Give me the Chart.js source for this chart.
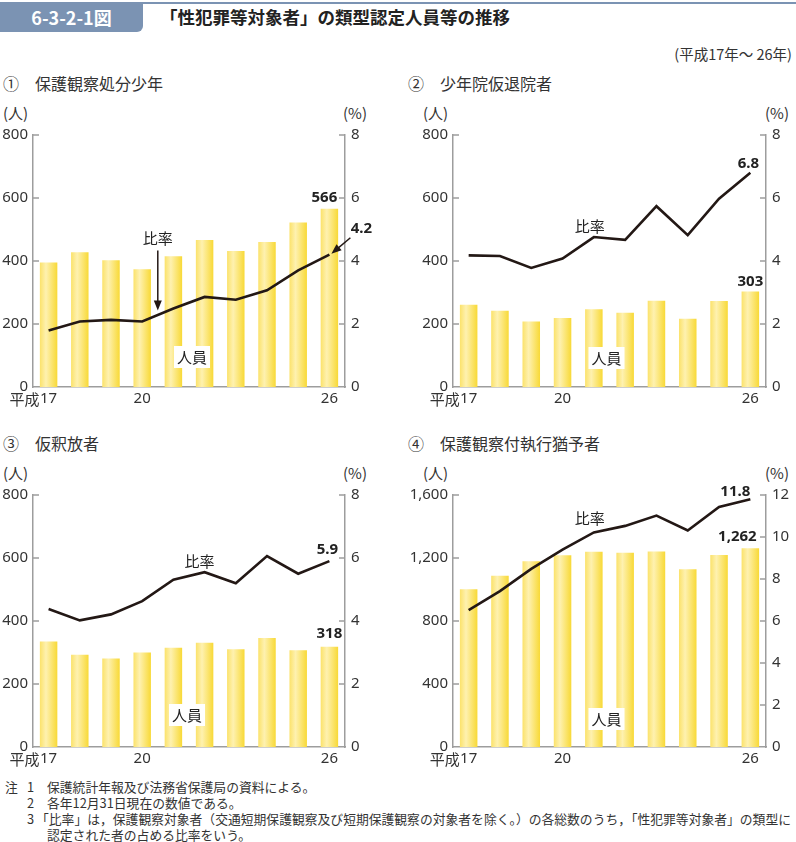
<!DOCTYPE html>
<html lang="ja">
<head>
<meta charset="utf-8">
<script src="https://cdn.jsdelivr.net/npm/chart.js@4"></script>
<style>
  body { margin: 0; background: #fff; font-family: "Noto Sans CJK JP", "Noto Sans", sans-serif; color: #333; }
  #page { position: relative; width: 796px; height: 842px; overflow: hidden; }
  .abs { position: absolute; white-space: nowrap; line-height: 20px; }
  .ctitle { font-size: 16px; color: #333; }
  .unit { font-size: 15px; }
  .note { font-size: 12.8px; line-height: 16px; color: #333; }
  canvas { position: absolute; }
</style>
</head>
<body>
<div id="page">
  <div class="abs" style="left:0;top:2px;width:796px;height:2px;background:#7b93b3;"></div>
  <div class="abs" style="left:0;top:3px;width:143px;height:29px;line-height:29px;background:#7b93b3;border-bottom-right-radius:6px;color:#fff;font-weight:bold;font-size:18px;text-align:center;">6-3-2-1図</div>
  <div class="abs" style="left:160px;top:7px;font-size:17.5px;font-weight:bold;color:#222;">「性犯罪等対象者」の類型認定人員等の推移</div>
  <div class="abs" style="right:4px;top:44px;font-size:14.5px;">(平成17年～ 26年)</div>

  <div class="abs ctitle" style="left:3px;top:73px;">①　保護観察処分少年</div>
  <div class="abs ctitle" style="left:408px;top:73px;">②　少年院仮退院者</div>
  <div class="abs ctitle" style="left:3px;top:433px;">③　仮釈放者</div>
  <div class="abs ctitle" style="left:408px;top:433px;">④　保護観察付執行猶予者</div>

  <div class="abs unit" style="left:3px;top:103px;">(人)</div>
  <div class="abs unit" style="left:343px;top:103px;">(%)</div>
  <div class="abs unit" style="left:423px;top:103px;">(人)</div>
  <div class="abs unit" style="left:765px;top:103px;">(%)</div>
  <div class="abs unit" style="left:3px;top:463px;">(人)</div>
  <div class="abs unit" style="left:343px;top:463px;">(%)</div>
  <div class="abs unit" style="left:423px;top:463px;">(人)</div>
  <div class="abs unit" style="left:765px;top:463px;">(%)</div>

  <canvas id="c1" width="400" height="295" style="left:0;top:120px;"></canvas>
  <canvas id="c2" width="396" height="295" style="left:400px;top:120px;"></canvas>
  <canvas id="c3" width="400" height="295" style="left:0;top:480px;"></canvas>
  <canvas id="c4" width="396" height="295" style="left:400px;top:480px;"></canvas>

  <div class="abs note" style="left:5px;top:779px;">注</div>
  <div class="abs note" style="left:27px;top:779px;">1</div>
  <div class="abs note" style="left:47px;top:779px;">保護統計年報及び法務省保護局の資料による。</div>
  <div class="abs note" style="left:27px;top:795px;">2</div>
  <div class="abs note" style="left:47px;top:795px;">各年12月31日現在の数値である。</div>
  <div class="abs note" style="left:27px;top:811px;">3</div>
  <div class="abs note" style="left:36px;top:811px;">「比率」は，保護観察対象者（交通短期保護観察及び短期保護観察の対象者を除く。）の各総数のうち，「性犯罪等対象者」の類型に</div>
  <div class="abs note" style="left:47px;top:827px;">認定された者の占める比率をいう。</div>
</div>

<script>
// 年 (平成)
const years = ['17', '18', '19', '20', '21', '22', '23', '24', '25', '26'];

// ① 保護観察処分少年
const shonenCounts = [395, 428, 402, 374, 415, 467, 432, 460, 522, 566];
const shonenRates = [1.79, 2.08, 2.13, 2.08, 2.49, 2.86, 2.77, 3.07, 3.7, 4.2];
// ② 少年院仮退院者
const karitaiCounts = [261, 242, 208, 219, 247, 236, 274, 217, 273, 303];
const karitaiRates = [4.18, 4.16, 3.78, 4.08, 4.76, 4.67, 5.74, 4.82, 5.98, 6.8];
// ③ 仮釈放者
const karishakuCounts = [335, 293, 281, 300, 315, 331, 310, 346, 307, 318];
const karishakuRates = [4.38, 4.02, 4.21, 4.63, 5.31, 5.55, 5.2, 6.06, 5.5, 5.9];
// ④ 保護観察付執行猶予者
const yuyoCounts = [1002, 1088, 1179, 1217, 1240, 1234, 1242, 1128, 1219, 1262];
const yuyoRates = [6.52, 7.42, 8.48, 9.4, 10.22, 10.53, 11.02, 10.31, 11.43, 11.8];

// axis ranges
const countMax = [800, 800, 800, 1600];
const countStep = [200, 200, 200, 400];
const rateMax = [8, 8, 8, 12];
const rateStep = [2, 2, 2, 2];

// x labels shown
const xLabelShown = { 0: '17', 3: '20', 9: '26' };

const axisColor = '#9d9d9d';
const lineColor = '#231815';
const jpFont = '"Noto Sans CJK JP", "Noto Sans", sans-serif';

Chart.defaults.font.family = '"Noto Sans", "Noto Sans CJK JP", sans-serif';
Chart.defaults.font.size = 15;
Chart.defaults.color = '#333';

function barFill(c) {
    const chart = c.chart;
    const xs = chart.scales.x;
    if (!xs || !chart.chartArea) return '#fbe36a';
    const cx = xs.getPixelForValue(c.dataIndex);
    const w = (chart.chartArea.right - chart.chartArea.left) / years.length * 0.56;
    const g = chart.ctx.createLinearGradient(cx - w / 2, 0, cx + w / 2, 0);
    g.addColorStop(0, '#fbe26a');
    g.addColorStop(0.35, '#fef1b0');
    g.addColorStop(1, '#f8d936');
    return g;
}

function drawArrow(ctx, x1, y1, x2, y2) {
    const a = Math.atan2(y2 - y1, x2 - x1);
    ctx.beginPath();
    ctx.moveTo(x1, y1);
    ctx.lineTo(x2 - 6 * Math.cos(a), y2 - 6 * Math.sin(a));
    ctx.stroke();
    ctx.beginPath();
    ctx.moveTo(x2, y2);
    ctx.lineTo(x2 - 10 * Math.cos(a) + 4 * Math.sin(a), y2 - 10 * Math.sin(a) - 4 * Math.cos(a));
    ctx.lineTo(x2 - 10 * Math.cos(a) - 4 * Math.sin(a), y2 - 10 * Math.sin(a) + 4 * Math.cos(a));
    ctx.closePath();
    ctx.fill();
}

const extras = {
    id: 'extras',
    afterDraw(chart) {
        const o = chart.options.plugins.extras;
        const ctx = chart.ctx;
        const xs = chart.scales.x, ys = chart.scales.y, y2 = chart.scales.y2;
        ctx.save();
        // inward tick marks
        ctx.strokeStyle = axisColor;
        ctx.lineWidth = 1.5;
        ys.ticks.forEach(t => {
            if (t.value === 0) return;
            const py = ys.getPixelForValue(t.value);
            ctx.beginPath(); ctx.moveTo(xs.left, py); ctx.lineTo(xs.left + 6, py); ctx.stroke();
        });
        y2.ticks.forEach(t => {
            if (t.value === 0) return;
            const py = y2.getPixelForValue(t.value);
            ctx.beginPath(); ctx.moveTo(xs.right, py); ctx.lineTo(xs.right - 6, py); ctx.stroke();
        });
        // x labels
        ctx.fillStyle = '#333';
        ctx.textBaseline = 'middle';
        const ly = chart.chartArea.bottom + 12;
        Object.keys(xLabelShown).forEach(k => {
            const px = xs.getPixelForValue(+k);
            ctx.font = '15px "Noto Sans", sans-serif';
            ctx.textAlign = 'center';
            ctx.fillText(xLabelShown[k], px, ly);
            if (+k === 0) {
                ctx.font = '15px ' + jpFont;
                ctx.textAlign = 'right';
                ctx.fillText('平成', px - 9, ly);
            }
        });
        // texts
        (o.texts || []).forEach(t => {
            const sc = t.axis === 'y2' ? y2 : ys;
            const px = xs.getPixelForValue(t.i) + (t.dx || 0);
            const py = sc.getPixelForValue(t.v) + (t.dy || 0);
            ctx.font = (t.bold ? 'bold ' : '') + '15px ' + (t.jp ? jpFont : '"Noto Sans", sans-serif');
            ctx.textAlign = 'center';
            ctx.textBaseline = 'middle';
            if (t.box) {
                const w = ctx.measureText(t.text).width + 6;
                ctx.fillStyle = '#fff';
                ctx.fillRect(px - w / 2, py - 11, w, 22);
            }
            ctx.fillStyle = '#222';
            ctx.fillText(t.text, px, py);
        });
        // arrows
        ctx.strokeStyle = lineColor;
        ctx.fillStyle = lineColor;
        ctx.lineWidth = 1.5;
        (o.arrows || []).forEach(a => {
            const sc = a.axis === 'y2' ? y2 : ys;
            const px = xs.getPixelForValue(a.i);
            const py = sc.getPixelForValue(a.v);
            drawArrow(ctx, px + a.from[0], py + a.from[1], px + a.to[0], py + a.to[1]);
        });
        ctx.restore();
    }
};

function makeChart(id, k, counts, rates, leftW, rightW, texts, arrows) {
    new Chart(document.getElementById(id), {
        type: 'bar',
        data: {
            labels: years,
            datasets: [
                {
                    type: 'line',
                    data: rates,
                    yAxisID: 'y2',
                    borderColor: lineColor,
                    borderWidth: 2.6,
                    pointRadius: 0,
                    tension: 0,
                    order: 0
                },
                {
                    type: 'bar',
                    data: counts,
                    yAxisID: 'y',
                    backgroundColor: barFill,
                    barPercentage: 0.56,
                    categoryPercentage: 1,
                    order: 1
                }
            ]
        },
        options: {
            responsive: false,
            animation: false,
            layout: { padding: { top: 13, left: 0, right: 0, bottom: 0 } },
            plugins: {
                legend: { display: false },
                tooltip: { enabled: false },
                extras: { texts: texts, arrows: arrows }
            },
            scales: {
                x: {
                    offset: true,
                    grid: { display: false, drawTicks: false },
                    border: { display: true, color: axisColor, width: 1.5 },
                    ticks: { display: false },
                    afterFit: s => { s.height = 28; }
                },
                y: {
                    position: 'left',
                    min: 0,
                    max: countMax[k],
                    grid: { display: false, drawTicks: false },
                    border: { display: true, color: axisColor, width: 1.5 },
                    ticks: {
                        stepSize: countStep[k],
                        padding: 5,
                        callback: v => v.toLocaleString('en-US')
                    },
                    afterFit: s => { s.width = leftW; }
                },
                y2: {
                    position: 'right',
                    min: 0,
                    max: rateMax[k],
                    grid: { display: false, drawTicks: false },
                    border: { display: true, color: axisColor, width: 1.5 },
                    ticks: { stepSize: rateStep[k], padding: 6 },
                    afterFit: s => { s.width = rightW; }
                }
            }
        },
        plugins: [extras]
    });
}

makeChart('c1', 0, shonenCounts, shonenRates, 33, 55, [
    { text: '566', i: 9, v: 566, dx: -5, dy: -11, bold: true },
    { text: '4.2', i: 9, v: 4.2, axis: 'y2', dx: 32, dy: -26, bold: true },
    { text: '比率', i: 3.5, v: 2.3, axis: 'y2', dx: 0, dy: -76, jp: true },
    { text: '人員', i: 4.5, v: 0, dx: 3, dy: -30, jp: true, box: true }
], [
    { i: 9, v: 4.2, axis: 'y2', from: [21, -17], to: [2, -1] },
    { i: 3.5, v: 2.3, axis: 'y2', from: [0, -64], to: [0, -4] }
]);

makeChart('c2', 1, karitaiCounts, karitaiRates, 53, 30, [
    { text: '303', i: 9, v: 303, dy: -10, bold: true },
    { text: '6.8', i: 9, v: 6.8, axis: 'y2', dx: -2, dy: -9, bold: true },
    { text: '比率', i: 4, v: 4.76, axis: 'y2', dx: -4, dy: -11, jp: true },
    { text: '人員', i: 4.5, v: 0, dx: -3, dy: -29, jp: true, box: true }
], []);

makeChart('c3', 2, karishakuCounts, karishakuRates, 33, 55, [
    { text: '318', i: 9, v: 318, dy: -13, bold: true },
    { text: '5.9', i: 9, v: 5.9, axis: 'y2', dx: -2, dy: -11, bold: true },
    { text: '比率', i: 5, v: 5.55, axis: 'y2', dx: -5, dy: -11, jp: true },
    { text: '人員', i: 4.5, v: 0, dx: -2, dy: -32, jp: true, box: true }
], []);

makeChart('c4', 3, yuyoCounts, yuyoRates, 53, 30, [
    { text: '1,262', i: 9, v: 1262, dx: -13, dy: -12, bold: true },
    { text: '11.8', i: 9, v: 11.8, axis: 'y2', dx: -15, dy: -7, bold: true },
    { text: '比率', i: 4, v: 10.22, axis: 'y2', dx: -4, dy: -14, jp: true },
    { text: '人員', i: 4.5, v: 0, dx: -3, dy: -28, jp: true, box: true }
], []);
</script>
</body>
</html>
